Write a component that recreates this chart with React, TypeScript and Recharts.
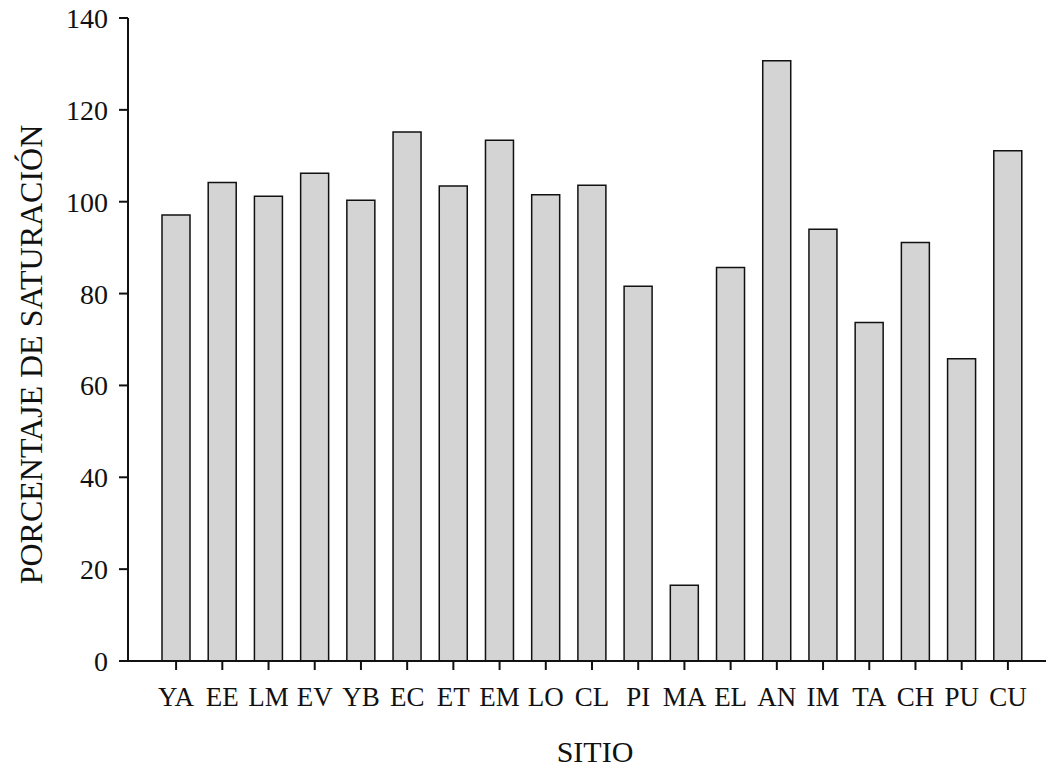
import { BarChart, Bar, XAxis, YAxis } from "recharts";

const sites = ["YA", "EE", "LM", "EV", "YB", "EC", "ET", "EM", "LO", "CL", "PI", "MA", "EL", "AN", "IM", "TA", "CH", "PU", "CU"];
const saturation = [97.1, 104.2, 101.2, 106.2, 100.3, 115.2, 103.4, 113.4, 101.5, 103.6, 81.6, 16.5, 85.7, 130.7, 94.0, 73.7, 91.1, 65.8, 111.1];
const yTicks = [0, 20, 40, 60, 80, 100, 120, 140];

const data = sites.map((site, i) => ({ site, value: saturation[i] }));

const FONT = "'Liberation Serif', 'Times New Roman', serif";

const YTitle = (props: any) => {
  const vb = props.viewBox || { x: 0, y: 18, height: 643 };
  const x = vb.x + 42;
  const y = vb.y + vb.height / 2 + 15;
  return (
    <text
      x={x}
      y={y}
      transform={`rotate(-90, ${x}, ${y})`}
      textAnchor="middle"
      fontFamily={FONT}
      fontSize={32}
      fill="#111"
    >
      PORCENTAJE DE SATURACIÓN
    </text>
  );
};

const XTitle = (props: any) => {
  const vb = props.viewBox || { x: 128, y: 661, width: 918 };
  return (
    <text
      x={vb.x + vb.width / 2 + 8}
      y={vb.y + 101}
      textAnchor="middle"
      fontFamily={FONT}
      fontSize={30}
      fill="#111"
    >
      SITIO
    </text>
  );
};

export default function App() {
  return (
    <div style={{ position: "absolute", left: 0, top: 0, background: "#fff" }}>
      <BarChart
        width={1049}
        height={769}
        data={data}
        margin={{ top: 18, right: 3, bottom: 0, left: 0 }}
        barCategoryGap={0}
      >
        <XAxis
          dataKey="site"
          height={108}
          padding={{ left: 25, right: 15 }}
          axisLine={{ stroke: "#111", strokeWidth: 2 }}
          tickLine={{ stroke: "#111", strokeWidth: 2 }}
          tickSize={9}
          tickMargin={17}
          interval={0}
          tick={{ fill: "#111", fontFamily: FONT, fontSize: 27 }}
          label={<XTitle />}
        />
        <YAxis
          width={128}
          domain={[0, 140]}
          ticks={yTicks}
          interval={0}
          axisLine={{ stroke: "#111", strokeWidth: 2 }}
          tickLine={{ stroke: "#111", strokeWidth: 2 }}
          tickSize={9}
          tickMargin={11}
          tick={{ fill: "#111", fontFamily: FONT, fontSize: 28 }}
          label={<YTitle />}
        />
        <Bar
          dataKey="value"
          barSize={28}
          fill="#d4d4d4"
          stroke="#111"
          strokeWidth={1.5}
          isAnimationActive={false}
        />
      </BarChart>
    </div>
  );
}
